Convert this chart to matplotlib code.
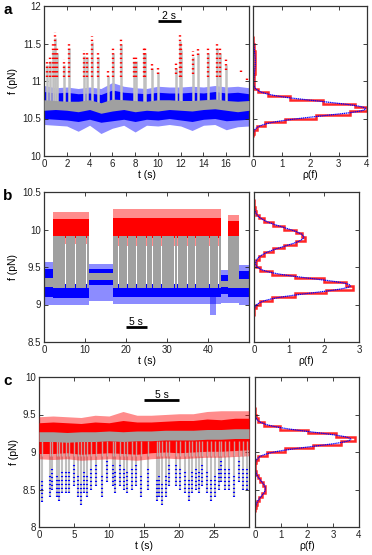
import numpy as np
import matplotlib
matplotlib.use("Agg")
import matplotlib.pyplot as plt

plt.rcParams['font.family'] = ['Liberation Sans', 'DejaVu Sans']

BLUE = '#0000ff'
RED = '#ff0000'
GREY = '#a0a0a0'
LGREY = '#c0c0c0'
HALO = 0.45

# ---------------- panel a ----------------
a_t = [0, 1, 2, 3, 4, 5, 6, 7, 8, 9, 10, 11, 12, 13, 14, 15, 16, 17, 18]
a_blue_lo = [10.50, 10.49, 10.48, 10.46, 10.49, 10.45, 10.47, 10.49, 10.46, 10.49,
             10.48, 10.50, 10.48, 10.46, 10.49, 10.50, 10.47, 10.48, 10.49]
a_blue_hi = [10.86, 10.84, 10.85, 10.83, 10.84, 10.82, 10.88, 10.85, 10.84, 10.83,
             10.85, 10.84, 10.84, 10.85, 10.84, 10.86, 10.84, 10.85, 10.83]
a_halo_lo = [10.42, 10.41, 10.40, 10.33, 10.41, 10.30, 10.37, 10.41, 10.32, 10.41,
             10.40, 10.42, 10.40, 10.34, 10.41, 10.42, 10.35, 10.39, 10.40]
a_halo_hi = [10.94, 10.91, 10.92, 10.90, 10.92, 10.90, 10.98, 10.93, 10.91, 10.90,
             10.93, 10.92, 10.92, 10.93, 10.92, 10.94, 10.92, 10.93, 10.91]
a_grey_lo = [10.61, 10.62, 10.61, 10.59, 10.62, 10.57, 10.60, 10.62, 10.59, 10.61,
             10.60, 10.62, 10.61, 10.60, 10.62, 10.63, 10.61, 10.59, 10.61]
a_grey_hi = [10.75, 10.74, 10.73, 10.73, 10.75, 10.71, 10.76, 10.75, 10.74, 10.73,
             10.75, 10.75, 10.74, 10.74, 10.75, 10.76, 10.74, 10.73, 10.74]
a_spike_t = [0.3, 0.55, 0.8, 0.95, 1.1, 1.75, 2.2, 3.55, 3.75, 4.2, 4.75, 5.6, 6.1,
             6.8, 7.9, 8.05, 8.75, 8.9, 9.5, 10.0, 11.6, 11.9, 12.0, 13.1, 13.5,
             14.4, 15.2, 15.45, 16.0, 17.3, 17.85]
a_spike_top = [11.30, 11.35, 11.50, 11.65, 11.45, 11.30, 11.52, 11.42, 11.40, 11.60,
               11.40, 11.15, 11.45, 11.57, 11.35, 11.35, 11.45, 11.45, 11.25, 11.20,
               11.25, 11.62, 11.50, 11.40, 11.45, 11.45, 11.52, 11.45, 11.30, 11.15,
               11.05]
a_spike_red_lo = [11.05, 11.05, 11.05, 11.05, 11.05, 11.05, 11.05, 11.05, 11.05, 11.05,
                  11.05, 11.05, 11.05, 11.05, 11.05, 11.05, 11.05, 11.05, 11.15, 11.10,
                  11.10, 11.05, 11.05, 11.10, 11.35, 11.05, 11.05, 11.05, 11.15, 11.12,
                  11.02]
a_grey_spike = [True] * 29 + [False, False]
a_hist_start, a_hist_bin = 10.25, 0.05
a_hist = [0.005, 0.028, 0.125, 0.43, 1.11, 2.22, 3.40, 4.00, 3.58, 2.47, 1.31, 0.53,
          0.16, 0.05, 0.02, 0.026, 0.04, 0.057, 0.071, 0.08, 0.08, 0.069, 0.056,
          0.04, 0.025, 0.015, 0.008]
a_fit_mu = [10.63, 11.25]
a_fit_sig = [0.097, 0.15]
a_fit_amp = [3.95, 0.08]
a_yticks = [10, 10.5, 11, 11.5, 12]
a_yticklabels = ['10', '10.5', '11', '11.5', '12']
a_xticks = [0, 2, 4, 6, 8, 10, 12, 14, 16]
a_rticks = [0, 1, 2, 3, 4]

# ---------------- panel b ----------------
b_switch_on = [2.3, 16.9, 44.8]
b_switch_off = [10.9, 43.2, 47.6]
b_red_lo = [9.88, 9.88, 9.90]
b_red_hi = [10.14, 10.16, 10.12]
b_red_halo_lo = [9.80, 9.78, 9.82]
b_red_halo_hi = [10.24, 10.27, 10.20]
b_mid_lo = [9.22, 9.22, 9.22]
b_mid_hi = [9.92, 9.92, 9.91]
b_sw_blue_lo = [9.09, 9.10, 9.10]
b_sw_blue_hi = [9.27, 9.27, 9.27]
b_sw_blue_halo_lo = [9.00, 9.01, 9.02]
b_quiet_on = [0.0, 10.9, 43.2, 47.6]
b_quiet_off = [2.3, 16.9, 44.8, 50.0]
b_quiet_blue_lo = [9.10, 9.26, 9.14, 9.10]
b_quiet_blue_hi = [9.48, 9.47, 9.40, 9.45]
b_quiet_halo_lo = [9.00, 9.05, 9.02, 9.00]
b_quiet_halo_hi = [9.56, 9.54, 9.46, 9.53]
b_quiet_grey_lo = [9.24, 9.33, 9.23, 9.22]
b_quiet_grey_hi = [9.36, 9.42, 9.31, 9.34]
b_gap_t = [5.3, 7.6, 10.3, 18.2, 20.3, 22.5, 24.9, 26.5, 28.7, 31.8, 32.6, 35.1,
           37.0, 40.4, 42.5]
b_dip_t = [40.6, 41.9]
b_dip_lo = 8.86
b_hist_start, b_hist_bin = 8.85, 0.05
b_hist = [0.001, 0.008, 0.043, 0.17, 0.51, 1.17, 2.05, 2.82, 2.62, 2.0, 1.17, 0.51,
          0.175, 0.06, 0.057, 0.13, 0.28, 0.54, 0.87, 1.19, 1.45, 1.36, 1.19, 0.87,
          0.54, 0.28, 0.13, 0.049, 0.016, 0.004, 0.001]
b_fit_mu = [9.25, 9.90]
b_fit_sig = [0.095, 0.125]
b_fit_amp = [2.75, 1.42]
b_yticks = [8.5, 9, 9.5, 10, 10.5]
b_yticklabels = ['8.5', '9', '9.5', '10', '10.5']
b_xticks = [0, 10, 20, 30, 40]
b_rticks = [0, 1, 2, 3]

# ---------------- panel c ----------------
c_t = [0, 2, 4, 6, 8, 10, 12, 14, 16, 18, 20, 22, 24, 26, 28, 30]
c_red_lo = [8.98, 8.98, 8.99, 8.97, 8.98, 8.99, 8.98, 8.97, 8.99, 9.00, 8.99, 9.00,
            9.01, 9.01, 9.02, 9.03]
c_red_hi = [9.39, 9.40, 9.39, 9.38, 9.40, 9.39, 9.42, 9.40, 9.40, 9.41, 9.42, 9.42,
            9.44, 9.43, 9.45, 9.45]
c_halo_lo = [8.91, 8.90, 8.91, 8.89, 8.90, 8.91, 8.90, 8.89, 8.91, 8.92, 8.91, 8.92,
             8.93, 8.93, 8.94, 8.95]
c_halo_hi = [9.47, 9.48, 9.47, 9.46, 9.49, 9.48, 9.54, 9.49, 9.49, 9.50, 9.51, 9.51,
             9.54, 9.55, 9.55, 9.55]
c_grey_lo = [9.14, 9.14, 9.13, 9.14, 9.14, 9.15, 9.14, 9.15, 9.15, 9.16, 9.16, 9.16,
             9.17, 9.17, 9.18, 9.18]
c_grey_hi = [9.27, 9.27, 9.26, 9.27, 9.27, 9.28, 9.27, 9.28, 9.28, 9.29, 9.29, 9.29,
             9.30, 9.30, 9.31, 9.31]
c_spike_t = [0.4, 1.5, 1.9, 2.5, 2.85, 3.3, 3.8, 4.3, 5.0, 5.6, 6.0, 6.4, 6.8, 7.4,
             8.1, 9.0, 9.75, 10.5, 10.9, 11.5, 12.1, 12.6, 13.3, 13.8, 14.6, 15.6,
             16.9, 17.2, 17.6, 18.1, 18.6, 19.6, 20.2, 20.9, 21.4, 21.9, 22.4, 22.8,
             23.3, 24.0, 24.5, 25.2, 25.7, 26.0, 26.6, 27.1, 27.9, 28.5, 29.2, 29.7]
c_spike_bot = [8.33, 8.40, 8.50, 8.40, 8.35, 8.45, 8.45, 8.45, 8.55, 8.40, 8.30, 8.45,
               8.40, 8.50, 8.55, 8.40, 8.60, 8.55, 8.45, 8.55, 8.50, 8.45, 8.50, 8.55,
               8.40, 8.50, 8.35, 8.40, 8.30, 8.40, 8.55, 8.55, 8.50, 8.45, 8.35, 8.45,
               8.50, 8.45, 8.55, 8.45, 8.35, 8.40, 8.50, 8.60, 8.50, 8.50, 8.40, 8.60,
               8.50, 8.50]
c_hist_start, c_hist_bin = 8.20, 0.05
c_hist = [0.007, 0.025, 0.072, 0.16, 0.28, 0.376, 0.395, 0.32, 0.21, 0.10, 0.04,
          0.012, 0.008, 0.03, 0.13, 0.45, 1.15, 2.24, 3.30, 3.85, 3.13, 2.02, 0.98,
          0.36, 0.10, 0.02, 0.004, 0.001]
c_fit_mu = [9.17, 8.51]
c_fit_sig = [0.095, 0.10]
c_fit_amp = [3.68, 0.40]
c_yticks = [8, 8.5, 9, 9.5, 10]
c_yticklabels = ['8', '8.5', '9', '9.5', '10']
c_xticks = [0, 5, 10, 15, 20, 25]
c_rticks = [0, 1, 2, 3, 4]

W, H = 372, 555
fig = plt.figure(figsize=(W / 100, H / 100), dpi=100)


def box(x0, y0, x1, y1):
    return [x0 / W, 1 - y1 / H, (x1 - x0) / W, (y1 - y0) / H]


def style(ax, labelleft=True):
    ax.tick_params(direction='in', top=True, right=True, length=3, width=0.6,
                   labelsize=7, pad=2, colors='#222222', labelleft=labelleft)
    for s in ax.spines.values():
        s.set_linewidth(0.9)
        s.set_color('#333333')


def hist_panel(ax, start, binw, dens, mu, sig, amp, ylim, xlim, xticks):
    edges = start + binw * np.arange(len(dens) + 1)
    ax.stairs(dens, edges, orientation='horizontal', color=RED, lw=1.8,
              alpha=0.85, baseline=None)
    f = np.linspace(ylim[0], ylim[1], 600)
    fit = np.zeros_like(f)
    for m, s, a in zip(mu, sig, amp):
        fit += a * np.exp(-0.5 * ((f - m) / s) ** 2)
    ax.plot(fit, f, color=BLUE, lw=0.9, ls=(0, (1.0, 0.5)))
    ax.set_xlim(*xlim)
    ax.set_ylim(*ylim)
    ax.set_xticks(xticks)
    ax.set_xticklabels([str(v) for v in xticks])
    ax.set_xlabel('ρ(f)', fontsize=7.5, labelpad=1)
    style(ax, labelleft=False)


def scalebar(ax, t0, t1, y, label):
    ax.plot([t0, t1], [y, y], color='black', lw=2, solid_capstyle='butt', zorder=10)
    ax.text((t0 + t1) / 2, y, label, ha='center', va='bottom', fontsize=7.5, zorder=10)


DOTS = [(0, (0.6, 1.3))]

# ---------- panel a drawing ----------
axa = fig.add_axes(box(44, 6, 249, 156))
axa.fill_between(a_t, a_halo_lo, a_halo_hi, color=BLUE, alpha=HALO, lw=0, zorder=1)
axa.fill_between(a_t, a_blue_lo, a_blue_hi, color=BLUE, lw=0, zorder=1)
gt = [t for t, g in zip(a_spike_t, a_grey_spike) if g]
gtop = [v - 0.08 for v, g in zip(a_spike_top, a_grey_spike) if g]
axa.vlines(gt, 10.7, gtop, color=LGREY, lw=1.8, zorder=2)
axa.fill_between(a_t, a_grey_lo, a_grey_hi, color=GREY, lw=0, zorder=3)
axa.vlines(a_spike_t, a_spike_red_lo, a_spike_top, color=RED, lw=1.7,
           linestyles=DOTS, zorder=4)
axa.set_xlim(0, 18)
axa.set_ylim(10, 12)
axa.set_xticks(a_xticks)
axa.set_yticks(a_yticks)
axa.set_yticklabels(a_yticklabels)
axa.set_xlabel('t (s)', fontsize=7.5, labelpad=1)
axa.set_ylabel('f (pN)', fontsize=7.5, labelpad=3)
style(axa)
scalebar(axa, 10, 12, 11.80, '2 s')

axar = fig.add_axes(box(253, 6, 367, 156))
hist_panel(axar, a_hist_start, a_hist_bin, a_hist, a_fit_mu, a_fit_sig, a_fit_amp,
           (10, 12), (0, 4), a_rticks)
axar.set_yticks(a_yticks)

# ---------- panel b drawing ----------
axb = fig.add_axes(box(44, 192, 249, 342))
for i in range(len(b_switch_on)):
    t0, t1 = b_switch_on[i], b_switch_off[i]
    span = [(t0, t1 - t0)]
    axb.broken_barh(span, (b_sw_blue_halo_lo[i], b_sw_blue_hi[i] - b_sw_blue_halo_lo[i]),
                    color=BLUE, alpha=HALO, lw=0, zorder=1)
    axb.broken_barh(span, (b_sw_blue_lo[i], b_sw_blue_hi[i] - b_sw_blue_lo[i]),
                    color=BLUE, lw=0, zorder=1)
    axb.broken_barh(span, (b_red_halo_lo[i], b_red_halo_hi[i] - b_red_halo_lo[i]),
                    color=RED, alpha=HALO, lw=0, zorder=1)
    axb.broken_barh(span, (b_red_lo[i], b_red_hi[i] - b_red_lo[i]),
                    color=RED, lw=0, zorder=1)
    gaps = sorted([g for g in b_gap_t if t0 < g < t1])
    pieces = []
    cur = t0
    for g in gaps:
        pieces.append((cur, g - 0.12 - cur))
        cur = g + 0.12
    pieces.append((cur, t1 - cur))
    axb.broken_barh(pieces, (b_mid_lo[i], b_mid_hi[i] - b_mid_lo[i]),
                    color=GREY, lw=0, zorder=2)
for i in range(len(b_quiet_on)):
    t0, t1 = b_quiet_on[i], b_quiet_off[i]
    span = [(t0, t1 - t0)]
    axb.broken_barh(span, (b_quiet_halo_lo[i], b_quiet_halo_hi[i] - b_quiet_halo_lo[i]),
                    color=BLUE, alpha=HALO, lw=0, zorder=1)
    axb.broken_barh(span, (b_quiet_blue_lo[i], b_quiet_blue_hi[i] - b_quiet_blue_lo[i]),
                    color=BLUE, lw=0, zorder=1)
    axb.broken_barh(span, (b_quiet_grey_lo[i], b_quiet_grey_hi[i] - b_quiet_grey_lo[i]),
                    color=GREY, lw=0, zorder=2)
axb.broken_barh([(b_dip_t[0], b_dip_t[1] - b_dip_t[0])], (b_dip_lo, 9.1 - b_dip_lo),
                color=BLUE, alpha=HALO, lw=0, zorder=1)
axb.set_xlim(0, 50)
axb.set_ylim(8.5, 10.5)
axb.set_xticks(b_xticks)
axb.set_yticks(b_yticks)
axb.set_yticklabels(b_yticklabels)
axb.set_xlabel('t (s)', fontsize=7.5, labelpad=1)
axb.set_ylabel('f (pN)', fontsize=7.5, labelpad=3)
style(axb)
scalebar(axb, 20, 25, 8.70, '5 s')

axbr = fig.add_axes(box(254, 192, 359, 342))
hist_panel(axbr, b_hist_start, b_hist_bin, b_hist, b_fit_mu, b_fit_sig, b_fit_amp,
           (8.5, 10.5), (0, 3), b_rticks)
axbr.set_yticks(b_yticks)

# ---------- panel c drawing ----------
axc = fig.add_axes(box(39, 377, 249, 527))
axc.vlines(c_spike_t, c_spike_bot, 9.1, color=LGREY, lw=1.5, zorder=1)
axc.vlines(c_spike_t, c_spike_bot, [b + 0.3 for b in c_spike_bot], color=BLUE, lw=1.5,
           linestyles=DOTS, zorder=2)
axc.fill_between(c_t, c_halo_lo, c_halo_hi, color=RED, alpha=HALO, lw=0, zorder=3)
axc.fill_between(c_t, c_red_lo, c_red_hi, color=RED, lw=0, zorder=3)
axc.vlines(c_spike_t, 8.95, 9.15, color=LGREY, lw=1.0, alpha=0.8, zorder=3.5)
axc.fill_between(c_t, c_grey_lo, c_grey_hi, color=GREY, lw=0, zorder=4)
axc.set_xlim(0, 30)
axc.set_ylim(8, 10)
axc.set_xticks(c_xticks)
axc.set_yticks(c_yticks)
axc.set_yticklabels(c_yticklabels)
axc.set_xlabel('t (s)', fontsize=7.5, labelpad=1)
axc.set_ylabel('f (pN)', fontsize=7.5, labelpad=3)
style(axc)
scalebar(axc, 15, 20, 9.70, '5 s')

axcr = fig.add_axes(box(255, 377, 359, 527))
hist_panel(axcr, c_hist_start, c_hist_bin, c_hist, c_fit_mu, c_fit_sig, c_fit_amp,
           (8, 10), (0, 4), c_rticks)
axcr.set_yticks(c_yticks)

# panel letters
fig.text(3 / W, 1 - 14 / H, 'a', fontsize=11, fontweight='bold')
fig.text(3 / W, 1 - 200 / H, 'b', fontsize=11, fontweight='bold')
fig.text(3 / W, 1 - 385 / H, 'c', fontsize=11, fontweight='bold')

fig.savefig('out.png', dpi=100)
